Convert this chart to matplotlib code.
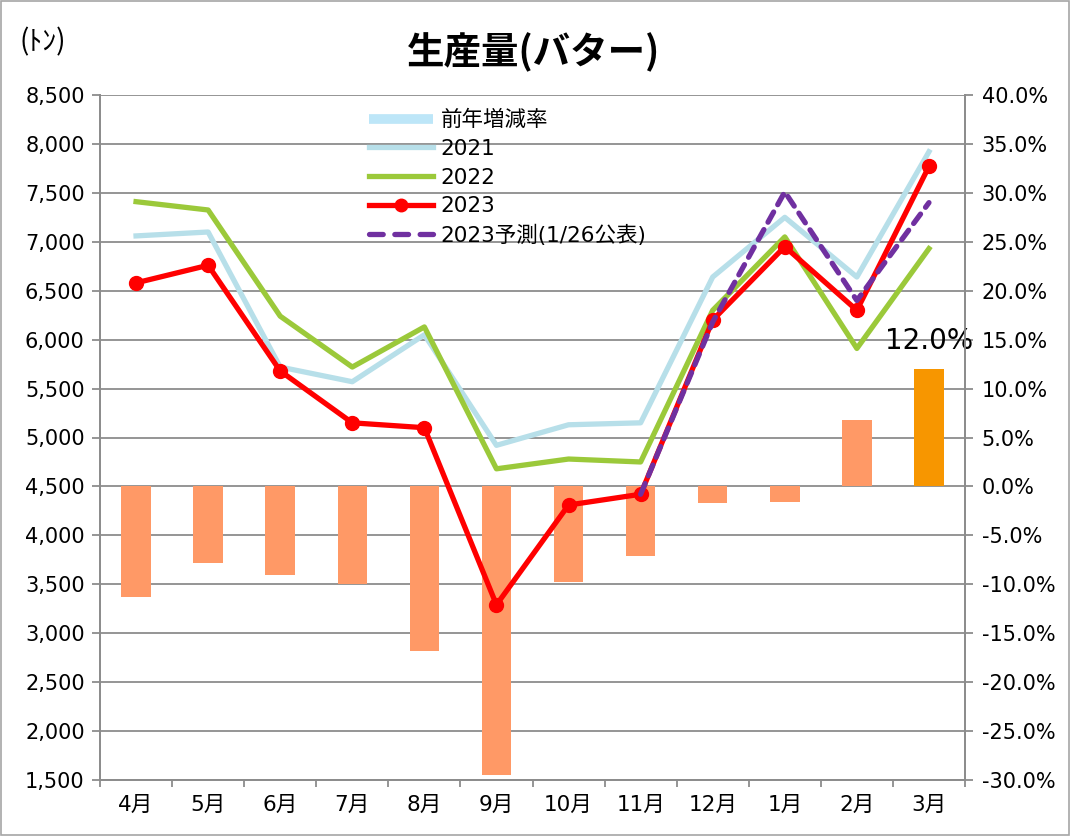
import numpy as np
import matplotlib
matplotlib.use("Agg")
import matplotlib.pyplot as plt
from matplotlib.lines import Line2D
from matplotlib.ticker import FuncFormatter, MultipleLocator

plt.rcParams['font.family'] = ['DejaVu Sans', 'Noto Sans CJK JP']

months = ["4月", "5月", "6月", "7月", "8月", "9月", "10月", "11月", "12月", "1月", "2月", "3月"]
y2021 = [7060, 7100, 5720, 5570, 6050, 4920, 5130, 5150, 6640, 7250, 6640, 7920]
y2022 = [7410, 7325, 6240, 5720, 6130, 4680, 4780, 4750, 6300, 7050, 5910, 6930]
y2023 = [6580, 6760, 5680, 5150, 5100, 3290, 4310, 4420, 6200, 6950, 6300, 7770]
# 予測は11月から
forecast = [None, None, None, None, None, None, None, 4420, 6180, 7510, 6400, 7400]
yoy = [-11.3, -7.8, -9.0, -10.0, -16.8, -29.5, -9.8, -7.1, -1.7, -1.6, 6.8, 12.0]

c2021 = "#B7DFE9"
c2022 = "#9BC93A"
c2023 = "#FF0000"
cfc = "#7030A0"
cbar = "#FF9966"
cbar_last = "#F79600"
cleg = "#BDE6F8"
cgrid = "#8C8C8C"

x = np.arange(len(months))

fig = plt.figure(figsize=(10.7, 8.36), dpi=100)
ax2 = fig.add_axes([100/1070, 1-780/836, 865/1070, 685/836])
ax = ax2.twinx()
ax.set_zorder(ax2.get_zorder() + 1)
ax.patch.set_visible(False)

# bars on right axis
bcols = [cbar] * (len(yoy) - 1) + [cbar_last]
ax2.bar(x, yoy, width=0.41, color=bcols, zorder=2)
ax2.set_ylim(-30, 40)
ax2.yaxis.set_major_locator(MultipleLocator(5))
ax2.grid(axis='y', color=cgrid, lw=1.3, zorder=0)
ax2.set_axisbelow(True)
ax2.yaxis.tick_right()
ax2.yaxis.set_label_position('right')
ax2.yaxis.set_major_formatter(FuncFormatter(lambda v, p: f"{v:.1f}%"))
ax2.text(x[-1], yoy[-1] + 2.9, f"{yoy[-1]:.1f}%", ha='center', va='center', fontsize=20)

# lines on left axis
fx = [i for i, v in enumerate(forecast) if v is not None]
fv = [v for v in forecast if v is not None]
ax.plot(x, y2021, color=c2021, lw=3.8, zorder=3)
ax.plot(x, y2022, color=c2022, lw=3.8, zorder=3)
ax.plot(x, y2023, color=c2023, lw=3.8, marker='o', ms=10, zorder=4)
ax.plot(fx, fv, color=cfc, lw=3.8, ls=(0, (2.2, 1.6)), dash_capstyle='round', zorder=5)
ax.set_ylim(1500, 8500)
ax.yaxis.set_major_locator(MultipleLocator(500))
ax.yaxis.tick_left()
ax.yaxis.set_major_formatter(FuncFormatter(lambda v, p: f"{int(v):,}"))

ax2.set_xlim(-0.5, len(months) - 0.5)
ax2.set_xticks(x)
ax2.set_xticklabels(months, fontsize=15.5)
ax2.set_xticks(np.arange(-0.5, len(months)), minor=True)
ax2.tick_params(axis='x', which='major', length=0, pad=11)
ax2.tick_params(axis='x', which='minor', length=5, color=cgrid, width=1.3)
ax2.tick_params(axis='y', labelsize=15, length=6, color=cgrid, width=1.3, pad=6)
ax.tick_params(axis='y', labelsize=15, length=6, color=cgrid, width=1.3, pad=5)

for a in (ax, ax2):
    a.spines['top'].set_visible(False)
    for s in ('left', 'right', 'bottom'):
        a.spines[s].set_color(cgrid)
        a.spines[s].set_linewidth(1.3)

handles = [
    Line2D([], [], color=cleg, lw=7, solid_capstyle='butt'),
    Line2D([], [], color=c2021, lw=3.8),
    Line2D([], [], color=c2022, lw=3.8),
    Line2D([], [], color=c2023, lw=3.8, marker='o', ms=9),
    Line2D([], [], color=cfc, lw=3.8, ls=(0, (2.6, 2.2)), dash_capstyle='round'),
]
labels = ["前年増減率", "2021", "2022", "2023", "2023予測(1/26公表)"]
ax.legend(handles, labels, loc='upper left', bbox_to_anchor=(0.293, 1.0), frameon=False,
          fontsize=15.5, handlelength=3.0, handletextpad=0.35, labelspacing=0.4,
          borderaxespad=0.3)

fig.text(534/1070, 1-52/836, "生産量(バター)", ha='center', va='center', fontsize=27, fontweight='bold',
         family=['Noto Sans CJK JP', 'DejaVu Sans'])
fig.text(20/1070, 1-42/836, "(ﾄﾝ)", ha='left', va='center', fontsize=20,
         family=['Noto Sans CJK JP', 'DejaVu Sans'])

fig.patches.append(plt.Rectangle((0.001, 0.001), 0.998, 0.998, transform=fig.transFigure,
                                 fill=False, edgecolor="#A6A6A6", lw=1.2))

fig.savefig("out.png", dpi=100)
